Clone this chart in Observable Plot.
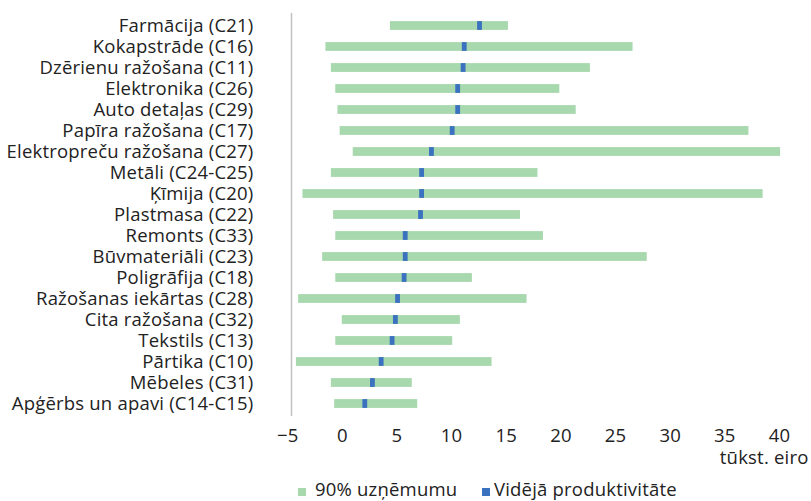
<!DOCTYPE html>
<html>
<head>
<meta charset="utf-8">
<script src="https://cdn.jsdelivr.net/npm/d3@7"></script>
<script src="https://cdn.jsdelivr.net/npm/@observablehq/plot@0.6"></script>
<style>
  html, body { margin: 0; padding: 0; background: #fff; }
  body { width: 811px; height: 501px; overflow: hidden; font-family: "Open Sans", sans-serif; position: relative; }
  #legend { position: relative; height: 25px; font-size: 18.5px; color: #222; letter-spacing: 0.2px; }
  .sw { position: absolute; width: 8px; height: 8px; top: 12px; }
  .lt { position: absolute; top: 0px; line-height: 25px; white-space: nowrap; }
</style>
</head>
<body>
<div id="chart"></div>
<div id="legend">
  <span class="sw" style="left:298px; background:#a8d8ae"></span><span class="lt" id="lg1" style="left:315px"></span>
  <span class="sw" style="left:482px; background:#3b72c0"></span><span class="lt" id="lg2" style="left:494px"></span>
</div>
<script>
const categories = [
  "Farmācija (C21)", "Kokapstrāde (C16)", "Dzērienu ražošana (C11)", "Elektronika (C26)",
  "Auto detaļas (C29)", "Papīra ražošana (C17)", "Elektropreču ražošana (C27)", "Metāli (C24-C25)",
  "Ķīmija (C20)", "Plastmasa (C22)", "Remonts (C33)", "Būvmateriāli (C23)", "Poligrāfija (C18)",
  "Ražošanas iekārtas (C28)", "Cita ražošana (C32)", "Tekstils (C13)", "Pārtika (C10)",
  "Mēbeles (C31)", "Apģērbs un apavi (C14-C15)"
];
const low  = [4.4, -1.5, -1.0, -0.6, -0.4, -0.2, 1.0, -1.0, -3.6, -0.8, -0.6, -1.8, -0.6, -4.0, 0.0, -0.6, -4.2, -1.0, -0.7];
const high = [15.2, 26.6, 22.7, 19.9, 21.4, 37.2, 40.1, 17.9, 38.5, 16.3, 18.4, 27.9, 11.9, 16.9, 10.8, 10.1, 13.7, 6.4, 6.9];
const mean = [12.6, 11.2, 11.1, 10.6, 10.6, 10.1, 8.2, 7.3, 7.3, 7.2, 5.8, 5.8, 5.7, 5.1, 4.9, 4.6, 3.6, 2.8, 2.1];
const xTicks = [-5, 0, 5, 10, 15, 20, 25, 30, 35, 40];
const unitLabel = "tūkst. eiro";
const seriesNames = ["90% uzņēmumu", "Vidējā produktivitāte"];

const rows = categories.map((c, i) => ({cat: c, low: low[i], high: high[i], mean: mean[i]}));
document.getElementById("lg1").textContent = seriesNames[0];
document.getElementById("lg2").textContent = seriesNames[1];

const chart = Plot.plot({
  width: 811,
  height: 476,
  marginLeft: 291,
  marginRight: 32,
  marginTop: 13,
  marginBottom: 60,
  style: {fontFamily: "'Open Sans', sans-serif", fontSize: "18.5px", color: "#222", letterSpacing: "0.2px"},
  x: {domain: [-4.65, 40]},
  y: {domain: categories, padding: 0},
  marks: [
    Plot.ruleX([-4.65], {stroke: "#c0c0c0", strokeWidth: 1.5}),
    Plot.barX(rows, {y: "cat", x1: "low", x2: "high", fill: "#a8d8ae", insetTop: 6.1, insetBottom: 6.1}),
    Plot.barX(rows, {y: "cat", x1: d => d.mean - 0.22, x2: d => d.mean + 0.22, fill: "#3b72c0", insetTop: 6.1, insetBottom: 6.1}),
    Plot.axisY({tickSize: 0, tickPadding: 38, label: null, fontSize: 18.5}),
    Plot.axisX(xTicks, {tickSize: 0, tickPadding: 12, label: null, fontSize: 18.5}),
    Plot.text([unitLabel], {frameAnchor: "bottom-right", dx: 29, dy: 47, textAnchor: "end", fontSize: 18.5})
  ]
});
document.getElementById("chart").appendChild(chart);
</script>
</body>
</html>
